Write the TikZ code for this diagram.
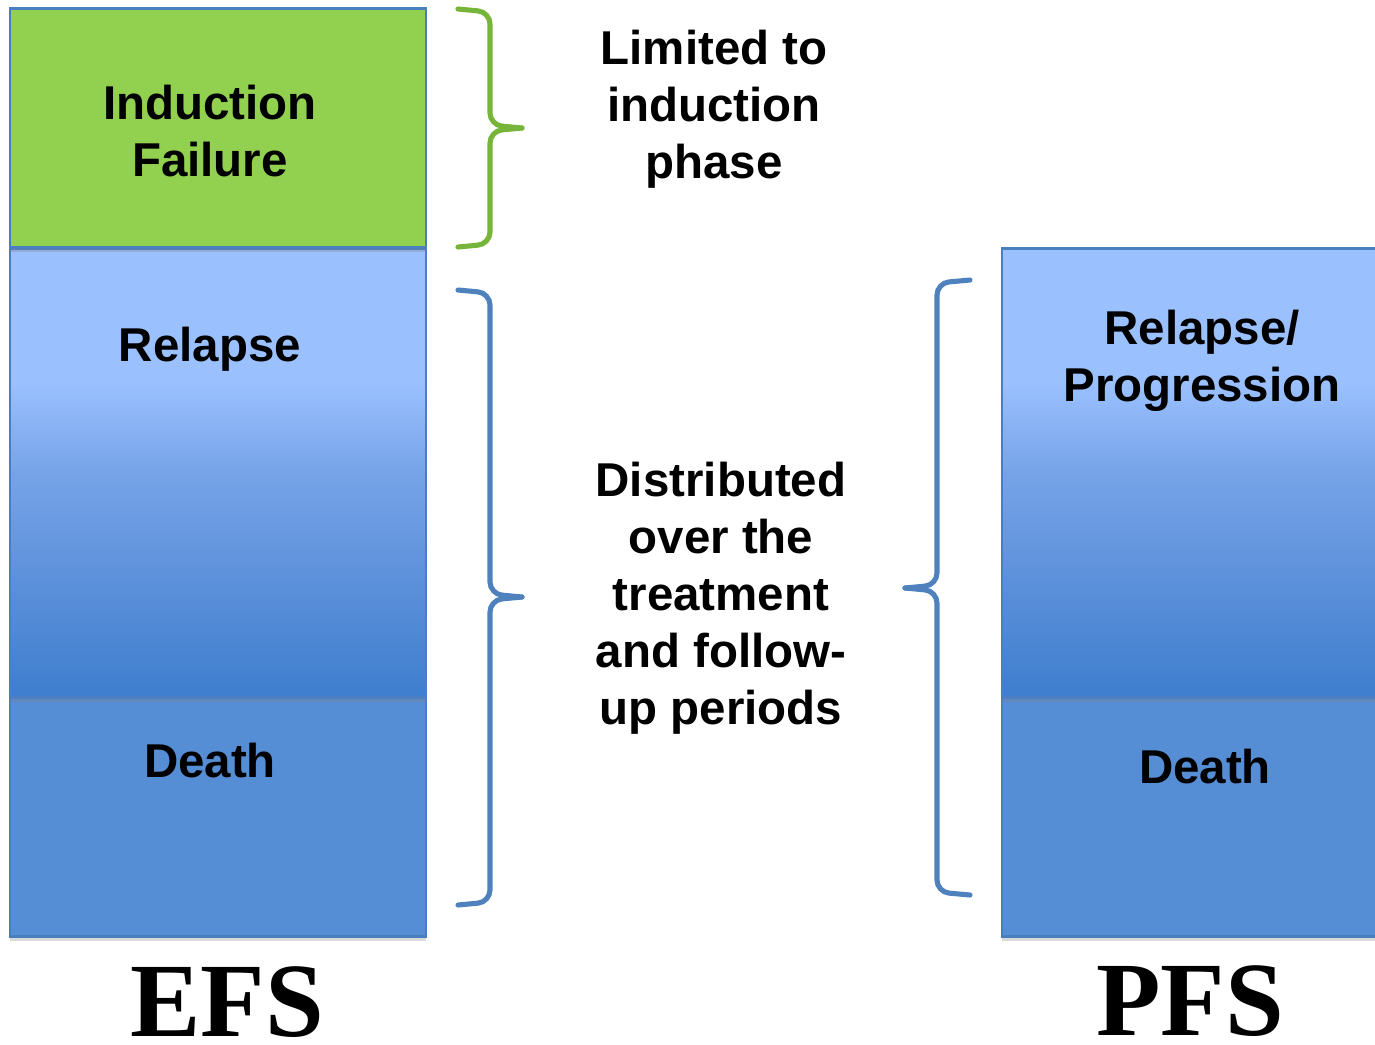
\documentclass[tikz,border=0pt]{standalone}
\usepackage{fontspec}
\setmainfont{Liberation Sans}
\newfontfamily\timesbf{Liberation Serif}
\usepackage{tikz}
\usetikzlibrary{shadows}
\definecolor{indgreen}{HTML}{92D050}
\definecolor{bracegreen}{HTML}{77B53A}
\definecolor{braceblue}{HTML}{4F81BD}
\definecolor{edgeblue}{HTML}{4A7EBE}
\definecolor{lightblue}{HTML}{9AC0FE}
\definecolor{midblue}{HTML}{76A3E8}
\definecolor{lowblue}{HTML}{5A8FD9}
\definecolor{darkblue}{HTML}{3E7ECE}
\definecolor{deathblue}{HTML}{558ED5}
\pgfdeclareverticalshading{relshade}{100bp}{color(0bp)=(darkblue); color(25bp)=(darkblue); color(37bp)=(lowblue); color(50bp)=(midblue); color(60bp)=(lightblue); color(100bp)=(lightblue)}

\begin{document}
\begin{tikzpicture}[x=0.01cm,y=-0.01cm,
    box/.style={draw=edgeblue, line width=0.7pt, inner sep=0pt,
      drop shadow={shadow xshift=0pt, shadow yshift=-0.04cm, opacity=.3}},
    lbl/.style={font=\bfseries\fontsize{13.5}{16.2}\selectfont, align=center},
    big/.style={font=\timesbf\bfseries\fontsize{30}{32}\selectfont, inner sep=0pt},
    brace/.style={line width=1.45pt, rounded corners=0.12cm, line cap=round}]
  \useasboundingbox (0,0) rectangle (1375,1044);
  % EFS column, bottom up
  \node[box, fill=deathblue, minimum width=4.16cm, minimum height=2.39cm] (efsdeath) at (218,817) {};
  \node[box, shading=relshade, minimum width=4.16cm, minimum height=4.49cm] (efsrel) at (218,473) {};
  \node[box, fill=indgreen, minimum width=4.16cm, minimum height=2.39cm] (indfail) at (218,128) {};
  % PFS column
  \node[box, fill=deathblue, minimum width=3.80cm, minimum height=2.39cm] (pfsdeath) at (1192,817) {};
  \node[box, shading=relshade, minimum width=3.80cm, minimum height=4.49cm] (pfsrel) at (1192,473) {};
  % labels
  \node[lbl] (indtxt) at (210,131) {Induction\\Failure};
  \node[lbl] (reltxt) at (210,349) {Relapse};
  \node[lbl] (deathtxt) at (210,761) {Death};
  \node[lbl] (progtxt) at (1202,361) {Relapse/\\Progression};
  \node[lbl] (pdeathtxt) at (1205,767) {Death};
  \node[lbl] (limtxt) at (714,109) {Limited to\\induction\\phase};
  \node[lbl] (disttxt) at (721,598) {Distributed\\over the\\treatment\\and follow-\\up periods};
  \node[big] (efs) at (227,1002) {EFS};
  \node[big] (pfs) at (1190,1001) {PFS};
  % braces
  \draw[brace, bracegreen] (458,9) -- (490,12) -- (490,125) -- (522,128);
  \draw[brace, bracegreen] (522,128) -- (490,131) -- (490,244) -- (458,247);
  \draw[brace, braceblue] (458,290) -- (490,293) -- (490,594) -- (522,597);
  \draw[brace, braceblue] (522,597) -- (490,600) -- (490,902) -- (458,905);
  \draw[brace, braceblue] (970,280) -- (937,283) -- (937,585) -- (905,588);
  \draw[brace, braceblue] (905,588) -- (937,591) -- (937,892) -- (970,895);
\end{tikzpicture}
\end{document}
